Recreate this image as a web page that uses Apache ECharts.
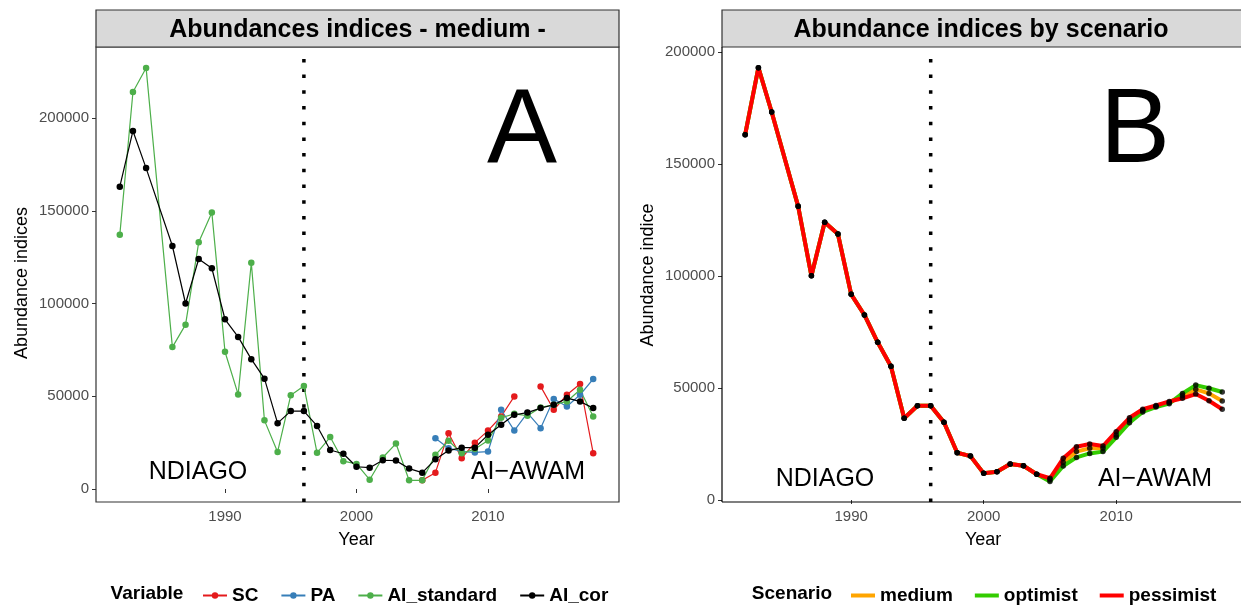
<!DOCTYPE html>
<html>
<head>
<meta charset="utf-8">
<script src="https://cdn.jsdelivr.net/npm/echarts@6/dist/echarts.min.js"></script>
<style>
  html, body { margin: 0; padding: 0; background: #fff; }
  #chart { width: 1241px; height: 607px; }
</style>
</head>
<body>
<div id="chart"></div>
<script>
/* years of the survey (no 1985 in the source) */
const years = [1982, 1983, 1984, 1986, 1987, 1988, 1989, 1990, 1991, 1992, 1993, 1994,
  1995, 1996, 1997, 1998, 1999, 2000, 2001, 2002, 2003, 2004, 2005, 2006, 2007, 2008,
  2009, 2010, 2011, 2012, 2013, 2014, 2015, 2016, 2017, 2018]

/* panel A : abundance indices per variable */
const sc = [null, null, null, null, null, null, null, null, null, null, null, null,
  null, null, null, null, null, null, null, null, null, null, 4700, 8800, 30100, 16600,
  25000, 31500, 39100, 49900, null, 55300, 42700, 50800, 56600, 19300]
const pa = [null, null, null, null, null, null, null, null, null, null, null, null,
  null, null, null, null, null, null, null, null, null, null, null, 27400, 22000, 20200,
  19700, 20200, 42700, 31500, 41000, 32800, 48500, 44500, 50800, 59300]
const aiStandard = [137000, 214000, 227000, 76500, 88600, 133000, 149000, 74000, 51000, 122000, 37000, 20000,
  50500, 55500, 19500, 28000, 15000, 13500, 5000, 17000, 24500, 4700, 4700, 18400, 26000, 19300,
  21500, 26100, 38400, 40500, 39500, 44000, 45400, 47200, 53500, 39100]
const aiCor = [163000, 193000, 173000, 131000, 100000, 124000, 119000, 91500, 82000, 70000, 59500, 35500,
  42000, 42000, 34000, 21000, 19000, 12000, 11500, 15500, 15300, 11000, 8800, 16000, 20700, 22300,
  22300, 29200, 34600, 40000, 41200, 43600, 45400, 49000, 47200, 43600]

/* panel B : common history 1982-2004, then one run per scenario 2005-2018 */
const history = [163100, 193000, 173200, 131100, 100100, 124000, 118750, 91800, 82600, 70400, 59700,
  36500, 42100, 42100, 34700, 21100, 19600, 11900, 12600, 16100, 15300, 11500]
const medium = [9200, 16800, 21600, 23100, 23100, 29000, 35700, 39900, 41800, 43500, 46600, 49400, 47600, 44200]
const optimist = [8300, 15200, 19000, 20800, 21600, 28000, 34500, 39300, 41500, 43000, 47600, 51300, 49900, 48200]
const pessimist = [9700, 18600, 23800, 25000, 24100, 30500, 36700, 40500, 42200, 44000, 45400, 47300, 44300, 40500]

/* axes */
const xTickLabels = ['1990', '2000', '2010']
const yTicks = { min: 0, max: 200000, interval: 50000 }
const breakYear = '1996'

const FONT = 'Liberation Sans'
const yearRange = (a, b) => { const out = []; for (let y = a; y <= b; y++) out.push(String(y)); return out }
const pairs = (vals) => years.map((y, i) => [String(y), vals[i]])
const onTick = (idx, val) => xTickLabels.indexOf(val) >= 0

var myChart = echarts.init(document.getElementById('chart'))

const xAxisBase = (grid, cats, offset, namePad) => ({
  type: 'category', gridIndex: grid, data: cats, boundaryGap: false, offset: offset,
  axisLine: { show: false },
  axisTick: { show: true, length: 4, interval: onTick, lineStyle: { color: '#333333' } },
  axisLabel: { interval: onTick, color: '#4D4D4D', fontSize: 15, fontFamily: FONT, margin: 7 },
  splitLine: { show: false },
  name: 'Year', nameLocation: 'middle', nameGap: 29,
  nameTextStyle: { color: '#000', fontSize: 18, fontFamily: FONT, padding: [0, 0, 0, namePad] },
})
const yAxisBase = (grid, offset) => ({
  type: 'value', gridIndex: grid, ...yTicks, offset: offset,
  axisLine: { show: false },
  axisTick: { show: true, length: 4, lineStyle: { color: '#333333' } },
  axisLabel: { color: '#4D4D4D', fontSize: 15, fontFamily: FONT, margin: 7, formatter: (v) => String(v) },
  splitLine: { show: false },
})

const ptLine = (name, vals, color) => ({
  name: name, type: 'line', xAxisIndex: 0, yAxisIndex: 0, data: pairs(vals),
  clip: false, symbol: 'circle', symbolSize: 6.5, showAllSymbol: true,
  itemStyle: { color: color }, lineStyle: { color: color, width: 1.2 },
})
const scenLine = (name, vals, color) => ({
  name: name, type: 'line', xAxisIndex: 1, yAxisIndex: 1, data: pairs(history.concat(vals)),
  clip: false, symbol: 'none',
  itemStyle: { color: color }, lineStyle: { color: color, width: 4 },
})
const scenDots = (vals) => ({
  type: 'scatter', xAxisIndex: 1, yAxisIndex: 1, data: pairs(history.concat(vals)), z: 5,
  clip: false, symbol: 'circle', symbolSize: 5.5, itemStyle: { color: '#000' },
})
const dotted = (ax, lo, hi) => ({
  type: 'line', xAxisIndex: ax, yAxisIndex: ax, data: [[breakYear, lo], [breakYear, hi]],
  clip: false, symbol: 'none', silent: true,
  lineStyle: { color: '#000', width: 3.5, type: [3.5, 12.2] },
})

const txt = (x, y, text, size, extra) => ({
  type: 'text', x: x, y: y, z: 50,
  style: Object.assign({ text: text, fill: '#000', font: size + 'px "' + FONT + '"', align: 'center', verticalAlign: 'middle' }, extra || {}),
})

const legendText = { fontWeight: 'bold', fontSize: 19, fontFamily: FONT, color: '#000' }

const option = {
  animation: false,
  grid: [
    { left: 93.5, right: 621.5, top: 118, bottom: 118 },
    { left: 718.65, right: 5.5, top: 52, bottom: 107 },
  ],
  xAxis: [xAxisBase(0, yearRange(1980, 2020), 13, 0), xAxisBase(1, yearRange(1980, 2019), 2, 12)],
  yAxis: [yAxisBase(0, -2.5), yAxisBase(1, -3.35)],
  legend: [
    {
      left: 197, top: 581, orient: 'horizontal', itemWidth: 24, itemHeight: 8, itemGap: 22,
      textStyle: legendText,
      data: ['SC', 'PA', 'AI_standard', 'AI_cor'],
    },
    {
      left: 846, top: 581, orient: 'horizontal', icon: 'rect', itemWidth: 24, itemHeight: 4, itemGap: 22,
      textStyle: legendText,
      data: ['medium', 'optimist', 'pessimist'],
    },
  ],
  series: [
    dotted(0, -7000, 238000),
    ptLine('SC', sc, '#E41A1C'),
    ptLine('PA', pa, '#377EB8'),
    ptLine('AI_standard', aiStandard, '#4DAF4A'),
    ptLine('AI_cor', aiCor, '#000000'),
    dotted(1, -900, 202200),
    scenLine('medium', medium, '#FFA500'),
    scenLine('optimist', optimist, '#33CC00'),
    scenLine('pessimist', pessimist, '#FF0000'),
    scenDots(medium),
    scenDots(optimist),
    scenDots(pessimist),
  ],
  graphic: [
    // panel A frame + strip
    { type: 'rect', shape: { x: 96, y: 47, width: 523, height: 455 }, style: { fill: 'none', stroke: '#333333', lineWidth: 1.2 }, z: 1 },
    { type: 'rect', shape: { x: 96, y: 10, width: 523, height: 37 }, style: { fill: '#D9D9D9', stroke: '#333333', lineWidth: 1.2 }, z: 1 },
    // panel B axes + strip
    { type: 'rect', shape: { x: 722, y: 10, width: 520, height: 37 }, style: { fill: '#D9D9D9', stroke: '#333333', lineWidth: 1.2 }, z: 1 },
    { type: 'line', shape: { x1: 722, y1: 47, x2: 722, y2: 502 }, style: { stroke: '#000', lineWidth: 1.2 }, z: 1 },
    { type: 'line', shape: { x1: 722, y1: 502, x2: 1241, y2: 502 }, style: { stroke: '#000', lineWidth: 1.2 }, z: 1 },
    txt(357.5, 30, 'Abundances indices - medium -', 25, { font: 'bold 25px "' + FONT + '"' }),
    txt(981, 30, 'Abundance indices by scenario', 25, { font: 'bold 25px "' + FONT + '"' }),
    txt(522, 133, 'A', 105),
    txt(1135, 133, 'B', 105),
    txt(198, 472, 'NDIAGO', 25),
    txt(528, 472, 'AI\u2212AWAM', 25),
    txt(825, 479, 'NDIAGO', 25),
    txt(1155, 479, 'AI\u2212AWAM', 25),
    Object.assign(txt(22, 283, 'Abundance indices', 18), { rotation: Math.PI / 2 }),
    Object.assign(txt(648, 275, 'Abundance indice', 18), { rotation: Math.PI / 2 }),
    txt(147, 594, 'Variable', 19, { font: 'bold 19px "' + FONT + '"' }),
    txt(792, 594, 'Scenario', 19, { font: 'bold 19px "' + FONT + '"' }),
  ],
}
myChart.setOption(option)
</script>
</body>
</html>
